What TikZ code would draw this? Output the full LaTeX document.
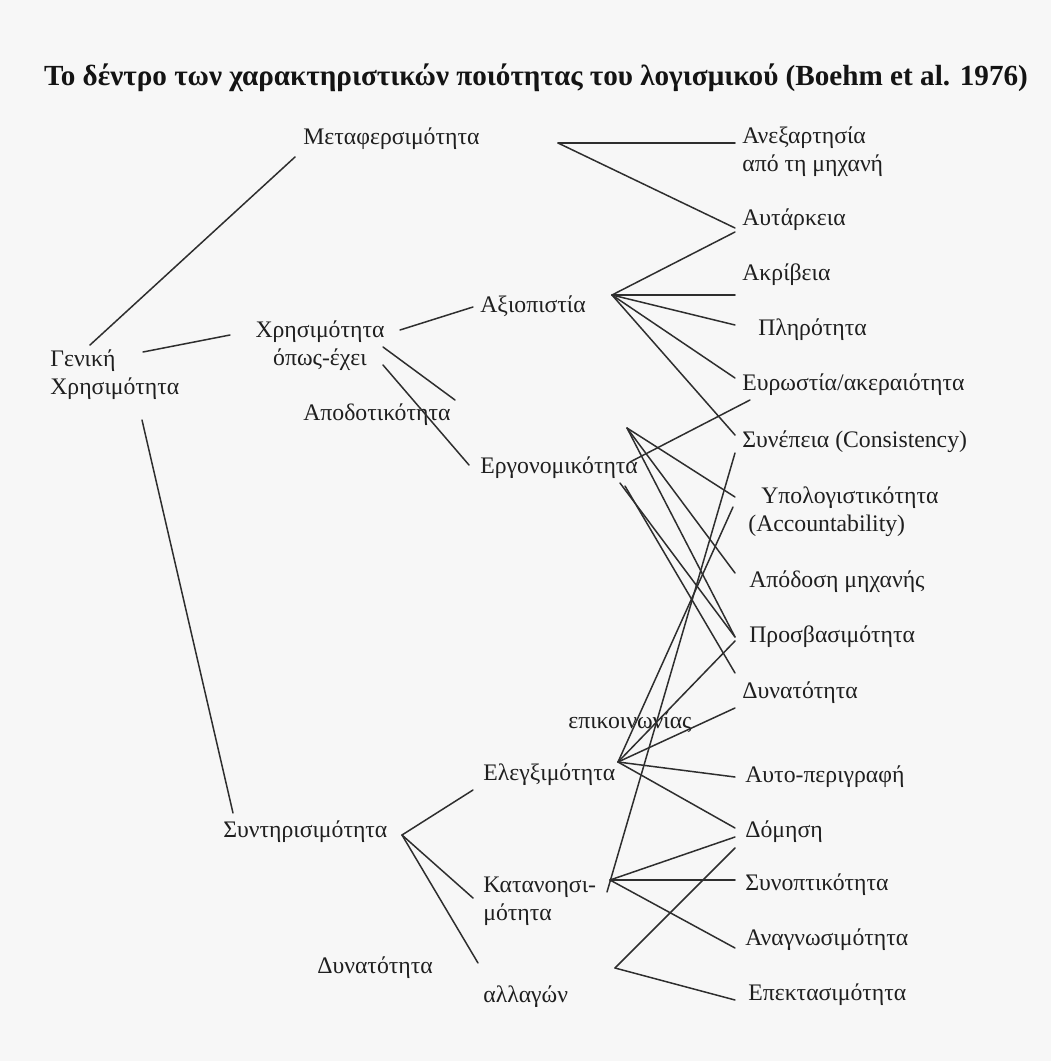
\documentclass[tikz,border=0pt]{standalone}
\usepackage{fontspec}
\setmainfont{Liberation Serif}
\tikzset{
qlabel/.style={inner sep=0pt,anchor=west,font=\fontsize{13.5}{16}\selectfont,text=black!88},
qpair/.style={qlabel,align=left},
qtitle/.style={inner sep=0pt,font=\fontsize{16.6}{19}\selectfont\bfseries,text=black!92},
qbranch/.style={line width=0.85pt,draw=black!82,line cap=round}
}
\begin{document}
\begin{tikzpicture}[x=0.02cm,y=-0.02cm]
\fill[black!3] (0,0) rectangle (1051,1061);
\useasboundingbox (0,0) rectangle (1051,1061);

\node[qtitle] (title) at (536,78) {Το δέντρο των χαρακτηριστικών ποιότητας του λογισμικού (Boehm et al. 1976)};

% first and second level
\node[qpair] (gen) at (50,375) {Γενική\\Χρησιμότητα};
\node[qlabel] (meta) at (303,139) {Μεταφερσιμότητα};
\node[qlabel,anchor=center,align=center] (xrisi) at (320,346) {Χρησιμότητα\\όπως-έχει};
\node[qlabel] (synt) at (223,832) {Συντηρισιμότητα};

% third level
\node[qlabel] (axio) at (480,306) {Αξιοπιστία};
\node[qlabel] (apod) at (303,415) {Αποδοτικότητα};
\node[qlabel] (ergo) at (480,468) {Εργονομικότητα};
\node[qlabel] (eleg) at (483,775) {Ελεγξιμότητα};
\node[qpair] (katan) at (483,901) {Κατανοησι-\\μότητα};
\node[qlabel] (dynal) at (317,968) {Δυνατότητα};
\node[qlabel] (allag) at (483,997) {αλλαγών};

% right column
\node[qpair] (ane) at (742,152) {Ανεξαρτησία\\από τη μηχανή};
\node[qlabel] (autar) at (742,220) {Αυτάρκεια};
\node[qlabel] (akriv) at (742,275) {Ακρίβεια};
\node[qlabel] (plir) at (758,330) {Πληρότητα};
\node[qlabel] (evr) at (742,385) {Ευρωστία/ακεραιότητα};
\node[qlabel] (syne) at (742,442) {Συνέπεια (Consistency)};
\node[qpair] (ypol) at (748,512) {\hspace*{0.26cm}Υπολογιστικότητα\\(Accountability)};
\node[qlabel] (apodm) at (749,582) {Απόδοση μηχανής};
\node[qlabel] (prosv) at (749,637) {Προσβασιμότητα};
\node[qlabel] (dynat) at (742,693) {Δυνατότητα};
\node[qlabel] (epik) at (568,722) {επικοινωνίας};
\node[qlabel] (afto) at (745,777) {Αυτο-περιγραφή};
\node[qlabel] (domi) at (745,832) {Δόμηση};
\node[qlabel] (synop) at (745,885) {Συνοπτικότητα};
\node[qlabel] (anag) at (745,940) {Αναγνωσιμότητα};
\node[qlabel] (epek) at (748,995) {Επεκτασιμότητα};

% branch points
\coordinate (genJt) at (90,345);
\coordinate (genJm) at (143,352);
\coordinate (genJb) at (142,420);
\coordinate (xrisiJa) at (400,330);
\coordinate (xrisiJb) at (383,347);
\coordinate (xrisiJc) at (383,365);
\coordinate (metaJ) at (558,143);
\coordinate (axioJ) at (612,295);
\coordinate (apodJ) at (627,428);
\coordinate (ergoJu) at (630,462);
\coordinate (ergoJd) at (620,483);
\coordinate (ergoJe) at (625,486);
\coordinate (syntJ) at (402,835);
\coordinate (elegJ) at (618,762);
\coordinate (katanJ) at (610,880);
\coordinate (katanJs) at (607,892);
\coordinate (allagJ) at (615,968);

% line ends
\coordinate (metaP) at (295,157);
\coordinate (xrisiP) at (230,335);
\coordinate (syntP) at (233,813);
\coordinate (axioP) at (473,307);
\coordinate (apodP) at (455,400);
\coordinate (ergoP) at (469,465);
\coordinate (elegP) at (473,790);
\coordinate (katanP) at (473,898);
\coordinate (allagP) at (478,963);
\coordinate (aneP) at (735,143);
\coordinate (autarPa) at (735,228);
\coordinate (autarPb) at (735,232);
\coordinate (akrivP) at (735,295);
\coordinate (plirP) at (735,325);
\coordinate (evrPa) at (735,378);
\coordinate (evrPb) at (750,400);
\coordinate (synePa) at (735,435);
\coordinate (synePb) at (735,453);
\coordinate (ypolPa) at (735,497);
\coordinate (ypolPb) at (733,507);
\coordinate (apodmP) at (735,573);
\coordinate (prosvPa) at (735,637);
\coordinate (prosvPb) at (735,641);
\coordinate (dynatPa) at (735,673);
\coordinate (dynatPb) at (735,708);
\coordinate (aftoP) at (735,777);
\coordinate (domiPa) at (735,828);
\coordinate (domiPb) at (735,837);
\coordinate (domiPc) at (735,848);
\coordinate (synopP) at (735,880);
\coordinate (anagP) at (735,948);
\coordinate (epekP) at (735,1000);

\draw[qbranch] (genJt) -- (metaP);
\draw[qbranch] (genJm) -- (xrisiP);
\draw[qbranch] (genJb) -- (syntP);
\draw[qbranch] (xrisiJa) -- (axioP);
\draw[qbranch] (xrisiJb) -- (apodP);
\draw[qbranch] (xrisiJc) -- (ergoP);
\draw[qbranch] (metaJ) -- (aneP);
\draw[qbranch] (metaJ) -- (autarPa);
\draw[qbranch] (axioJ) -- (autarPb);
\draw[qbranch] (axioJ) -- (akrivP);
\draw[qbranch] (axioJ) -- (plirP);
\draw[qbranch] (axioJ) -- (evrPa);
\draw[qbranch] (axioJ) -- (synePa);
\draw[qbranch] (apodJ) -- (ypolPa);
\draw[qbranch] (apodJ) -- (apodmP);
\draw[qbranch] (apodJ) -- (prosvPa);
\draw[qbranch] (ergoJu) -- (evrPb);
\draw[qbranch] (ergoJd) -- (prosvPa);
\draw[qbranch] (ergoJe) -- (dynatPa);
\draw[qbranch] (syntJ) -- (elegP);
\draw[qbranch] (syntJ) -- (katanP);
\draw[qbranch] (syntJ) -- (allagP);
\draw[qbranch] (elegJ) -- (ypolPb);
\draw[qbranch] (elegJ) -- (prosvPb);
\draw[qbranch] (elegJ) -- (dynatPb);
\draw[qbranch] (elegJ) -- (aftoP);
\draw[qbranch] (elegJ) -- (domiPa);
\draw[qbranch] (katanJs) -- (synePb);
\draw[qbranch] (katanJ) -- (domiPb);
\draw[qbranch] (katanJ) -- (synopP);
\draw[qbranch] (katanJ) -- (anagP);
\draw[qbranch] (allagJ) -- (domiPc);
\draw[qbranch] (allagJ) -- (epekP);
\end{tikzpicture}
\end{document}
